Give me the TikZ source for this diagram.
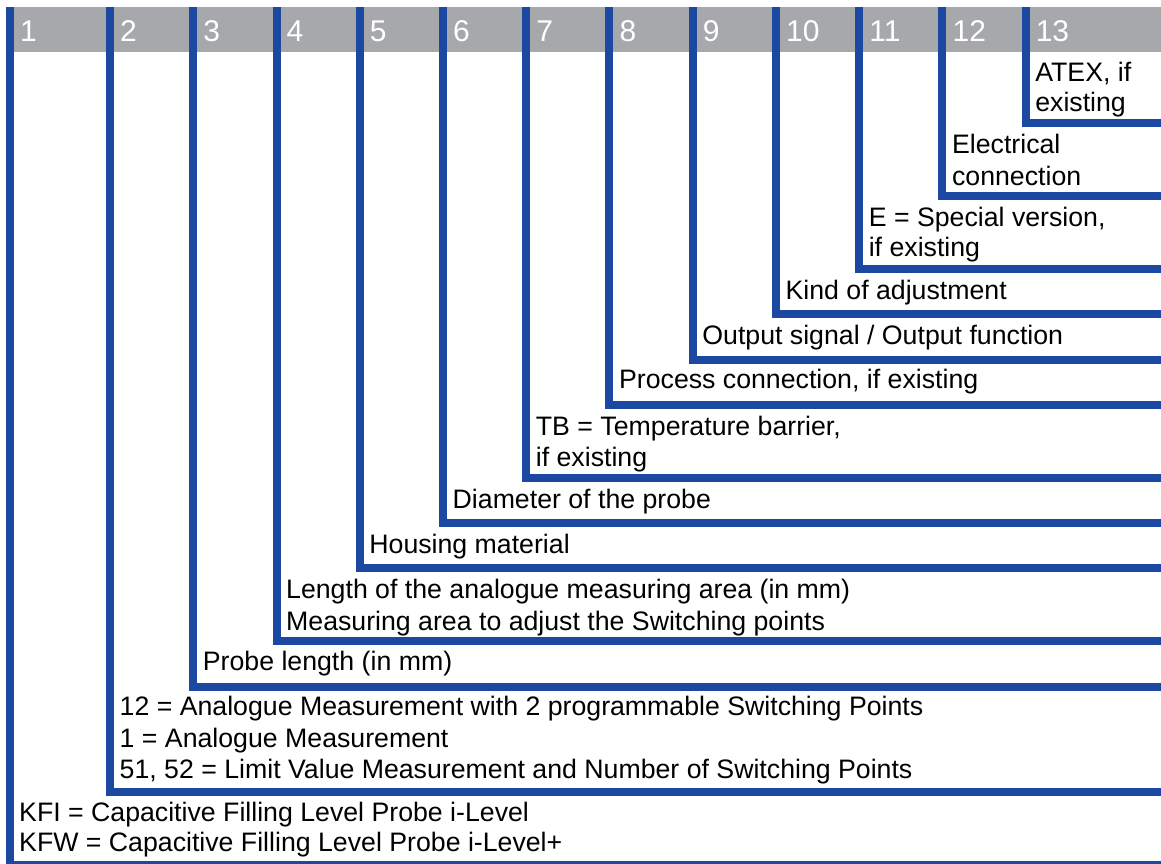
\documentclass[tikz,border=0pt]{standalone}
\usepackage{fontspec}
\setmainfont{Liberation Sans}
\definecolor{barblue}{RGB}{27,72,160}
\definecolor{headgray}{RGB}{167,168,171}
\begin{document}
\begin{tikzpicture}[x=1pt,y=-1pt,
  bar/.style={draw=barblue, line width=8pt, line join=miter},
  lbl/.style={anchor=base west, inner sep=0pt, font=\fontsize{26.7}{31}\selectfont},
  num/.style={anchor=base west, inner sep=0pt, text=white, font=\fontsize{30}{36}\selectfont}]
\useasboundingbox (0,0) rectangle (1161,864);
\fill[headgray] (6,7) rectangle (1161,52);
\foreach \i/\x/\y in {1/10/865, 2/110/792, 3/193.2/687, 4/276.5/641, 5/359.7/568,
  6/443/523, 7/526.2/478, 8/609.4/405, 9/692.7/360, 10/775.9/314,
  11/859.1/269, 12/942.4/196, 13/1025.6/123}{
  \coordinate (top\i) at (\x,7);
  \coordinate (end\i) at (1161,\y);
  \draw[bar] (top\i) |- (end\i);
  \node[num] (n\i) at (\x+10,42) {\i};
}
% column 13
\node[lbl] (t13a) at (1035.1,82) {ATEX, if};
\node[lbl] (t13b) at (1035.1,111.5) {existing};
% column 12
\node[lbl] (t12a) at (951.9,153.3) {Electrical};
\node[lbl] (t12b) at (951.9,185) {connection};
% column 11
\node[lbl] (t11a) at (868.6,226) {E = Special version,};
\node[lbl] (t11b) at (868.6,256.7) {if existing};
% column 10
\node[lbl] (t10) at (785.4,299.3) {Kind of adjustment};
% column 9
\node[lbl] (t9) at (702.2,344.3) {Output signal / Output function};
% column 8
\node[lbl] (t8) at (618.9,388.3) {Process connection, if existing};
% column 7
\node[lbl] (t7a) at (535.7,435) {TB = Temperature barrier,};
\node[lbl] (t7b) at (535.7,466.7) {if existing};
% column 6
\node[lbl] (t6) at (452.5,508.3) {Diameter of the probe};
% column 5
\node[lbl] (t5) at (369.2,553.5) {Housing material};
% column 4
\node[lbl] (t4a) at (286,598) {Length of the analogue measuring area (in mm)};
\node[lbl] (t4b) at (286,630) {Measuring area to adjust the Switching points};
% column 3
\node[lbl] (t3) at (202.7,670) {Probe length (in mm)};
% column 2
\node[lbl] (t2a) at (119.5,715.5) {12 = Analogue Measurement with 2 programmable Switching Points};
\node[lbl] (t2b) at (119.5,747) {1 = Analogue Measurement};
\node[lbl] (t2c) at (119.5,778) {51, 52 = Limit Value Measurement and Number of Switching Points};
% column 1
\node[lbl] (t1a) at (19,821.7) {KFI = Capacitive Filling Level Probe i-Level};
\node[lbl] (t1b) at (19,851.7) {KFW = Capacitive Filling Level Probe i-Level+};
\end{tikzpicture}
\end{document}
